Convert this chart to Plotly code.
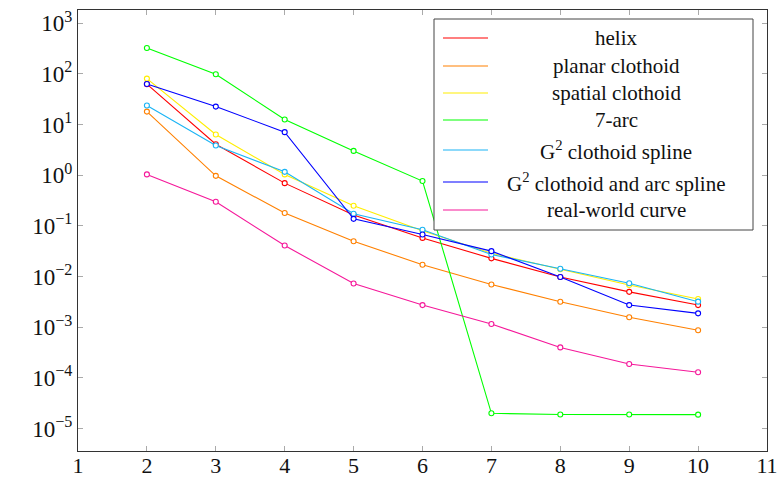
import plotly.graph_objects as go

x_vals = [2, 3, 4, 5, 6, 7, 8, 9, 10]

helix = [63, 4.1, 0.70, 0.165, 0.058, 0.0229, 0.0098, 0.0050, 0.00274]
planar_clothoid = [18.1, 0.975, 0.18, 0.050, 0.0171, 0.0070, 0.00318, 0.00158, 0.00087]
spatial_clothoid = [81, 6.4, 1.04, 0.25, 0.080, 0.0290, 0.0140, 0.0068, 0.0036]
seven_arc = [326, 98.6, 12.6, 3.03, 0.77, 2.0e-5, 1.9e-5, 1.9e-5, 1.88e-5]
g2_clothoid = [23.8, 3.87, 1.17, 0.174, 0.084, 0.0273, 0.0143, 0.0074, 0.0032]
g2_clothoid_arc = [63.5, 22.7, 7.1, 0.138, 0.068, 0.0318, 0.0098, 0.00274, 0.00188]
real_world = [1.04, 0.30, 0.041, 0.0073, 0.00274, 0.00116, 4.0e-4, 1.88e-4, 1.29e-4]

names = ["helix", "planar clothoid", "spatial clothoid", "7-arc",
         "G<sup>2</sup> clothoid spline", "G<sup>2</sup> clothoid and arc spline",
         "real-world curve"]
series = [helix, planar_clothoid, spatial_clothoid, seven_arc,
          g2_clothoid, g2_clothoid_arc, real_world]
colors = ["#ff0000", "#ff8000", "#ffee00", "#00ff00", "#1ab4f5", "#0000ff", "#f5189a"]

x_ticks = list(range(1, 12))
y_exps = list(range(-5, 4))
y_ticktext = ["10<sup>%s</sup>" % (str(e).replace("-", "\u2212")) for e in y_exps]

fig = go.Figure()
for name, ys, c in zip(names, series, colors):
    fig.add_trace(go.Scatter(
        x=x_vals, y=ys, mode="lines+markers", name=name, showlegend=False,
        line=dict(color=c, width=1.1),
        marker=dict(symbol="circle", size=5, color="white", line=dict(color=c, width=1.1)),
    ))

serif = "Liberation Serif"
L, R, T, B = 78, 767, 10, 451
fig.update_layout(
    width=779, height=482,
    margin=dict(l=L, r=779 - R, t=T, b=482 - B, autoexpand=False),
    plot_bgcolor="white", paper_bgcolor="white",
    font=dict(family=serif, color="#111"),
    xaxis=dict(range=[1, 11], tickvals=x_ticks, ticktext=[str(t) for t in x_ticks],
               automargin=False, ticklabelstandoff=-5,
               showgrid=False, zeroline=False, showline=True, linecolor="#333", linewidth=1,
               mirror="ticks", ticks="inside", ticklen=5, tickcolor="#aaa", tickwidth=1,
               tickfont=dict(family=serif, size=22, color="#111")),
    yaxis=dict(type="log", range=[-5.443, 3.263], tickvals=[10.0 ** e for e in y_exps],
               automargin=False,
               ticktext=y_ticktext, showgrid=False, zeroline=False, showline=True,
               linecolor="#333", linewidth=1, mirror="ticks", ticks="inside", ticklen=5,
               tickcolor="#aaa", tickwidth=1,
               tickfont=dict(family=serif, size=23, color="#111")),
)

# custom legend (pgfplots style, centered text)
def px_to_paper_x(px):
    return (px - L) / (R - L)

def px_to_paper_y(py):
    return (B - py) / (B - T)

fig.add_shape(type="rect", xref="paper", yref="paper",
              x0=px_to_paper_x(434), x1=px_to_paper_x(753),
              y0=px_to_paper_y(230), y1=px_to_paper_y(19),
              line=dict(color="#444", width=1), fillcolor="white", layer="above")
entry_y = [38, 66, 93, 120, 150, 182, 210]
for name, c, py in zip(names, colors, entry_y):
    fig.add_shape(type="line", xref="paper", yref="paper",
                  x0=px_to_paper_x(443), x1=px_to_paper_x(488),
                  y0=px_to_paper_y(py), y1=px_to_paper_y(py),
                  line=dict(color=c, width=1.1), layer="above")
    fig.add_annotation(xref="paper", yref="paper", x=px_to_paper_x(616),
                       y=px_to_paper_y(py), text=name, showarrow=False,
                       xanchor="center", yanchor="middle",
                       font=dict(family=serif, size=21, color="#111"))

fig.write_html("out.html")
